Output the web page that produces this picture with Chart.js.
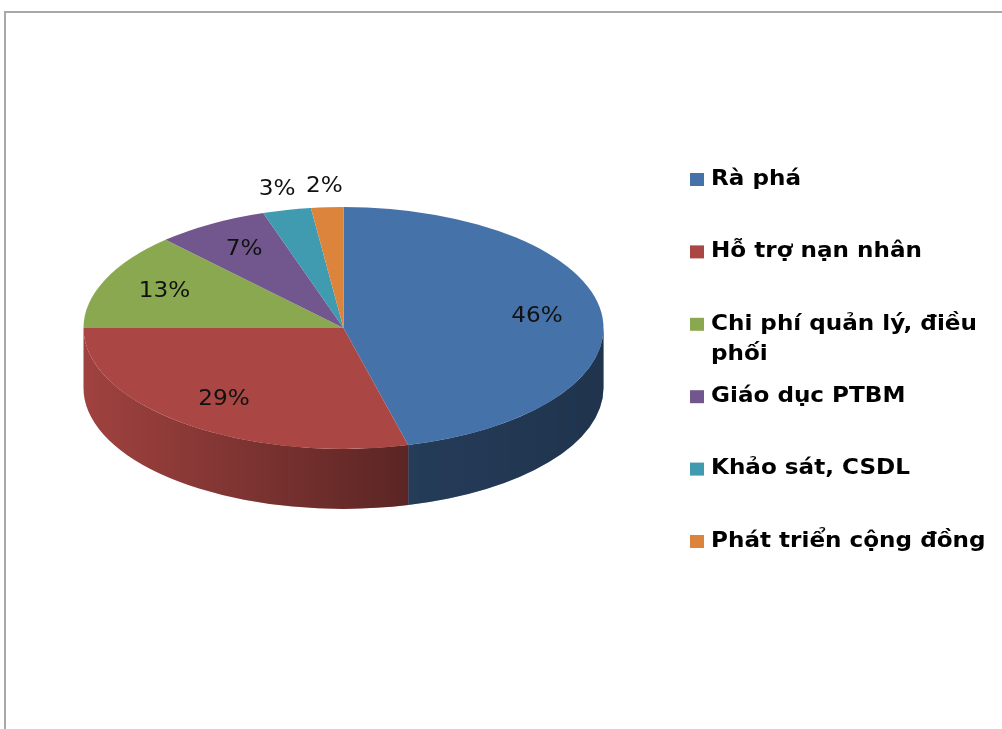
<!DOCTYPE html>
<html>
<head>
<meta charset="utf-8">
<script src="https://cdn.jsdelivr.net/npm/chart.js@4.4.1/dist/chart.umd.min.js"></script>
<style>
  body { margin: 0; background: #fff; }
  #wrap { position: relative; width: 1002px; height: 729px; overflow: hidden; }
  #frame { position: absolute; left: 4px; top: 11px; width: 1100px; height: 800px;
           border-left: 2px solid #a8a8a8; border-top: 2px solid #a8a8a8; }
  canvas { position: absolute; left: 0; top: 0; }
</style>
</head>
<body>
<div id="wrap">
  <div id="frame"></div>
  <canvas id="pie" width="1002" height="729"></canvas>
</div>
<script>
const categories = ['Rà phá', 'Hỗ trợ nạn nhân', 'Chi phí quản lý, điều phối', 'Giáo dục PTBM', 'Khảo sát, CSDL', 'Phát triển cộng đồng'];
const shares = [46, 29, 13, 7, 3, 2];
const sliceColors = ['#4672AA', '#AA4643', '#8AA84F', '#72578F', '#409AB0', '#DD843C'];

// look of the fake 3d pie
const tilt = 0.465;      // vertical squash of the top face
const depth = 60;        // thickness of the side wall
const labelFont = '20.5px "DejaVu Sans", Verdana, sans-serif';
const legendFont = 'bold 22px "DejaVu Sans", Verdana, sans-serif';
const labelStretch = 1.13;   // the source picture is a bit wide
const legendStretch = 1.05;

function wideText(ctx, text, x, y, sx, align) {
  ctx.save();
  ctx.translate(x, y);
  ctx.scale(sx, 1);
  ctx.textAlign = align;
  ctx.fillText(text, 0, 0);
  ctx.restore();
}

const pie3d = {
  id: 'pie3d',
  beforeDatasetsDraw(chart) {
    const ctx = chart.ctx;
    const arcs = chart.getDatasetMeta(0).data;
    const first = arcs[0].getProps(['x', 'y', 'outerRadius'], true);
    const cx = first.x, cy = first.y, r = first.outerRadius, ry = r * tilt;

    // side walls, only the front half (angles 0..PI) is visible
    arcs.forEach((arc, i) => {
      const p = arc.getProps(['startAngle', 'endAngle'], true);
      [0, 2 * Math.PI].forEach(shift => {
        const s = Math.max(p.startAngle, shift);
        const e = Math.min(p.endAngle, shift + Math.PI);
        if (e <= s) return;
        ctx.beginPath();
        ctx.ellipse(cx, cy, r, ry, 0, s, e);
        ctx.lineTo(cx + r * Math.cos(e), cy + ry * Math.sin(e) + depth);
        ctx.ellipse(cx, cy + depth, r, ry, 0, e, s, true);
        ctx.closePath();
        ctx.fillStyle = sliceColors[i];
        ctx.fill();
        const g = ctx.createLinearGradient(cx - r, 0, cx + r, 0);
        g.addColorStop(0, 'rgba(0,0,0,0.06)');
        g.addColorStop(0.64, 'rgba(0,0,0,0.48)');
        g.addColorStop(1, 'rgba(0,0,0,0.55)');
        ctx.fillStyle = g;
        ctx.fill();
      });
    });

    ctx.save();
    ctx.translate(cx, cy);
    ctx.scale(1, tilt);
    ctx.translate(-cx, -cy);
  },
  afterDatasetsDraw(chart) {
    const ctx = chart.ctx;
    ctx.restore();
    const arcs = chart.getDatasetMeta(0).data;
    const total = shares.reduce((a, b) => a + b, 0);
    ctx.font = labelFont;
    ctx.fillStyle = '#111';
    ctx.textBaseline = 'middle';
    arcs.forEach((arc, i) => {
      const p = arc.getProps(['x', 'y', 'startAngle', 'endAngle', 'outerRadius'], true);
      const mid = (p.startAngle + p.endAngle) / 2;
      const pct = Math.round(shares[i] / total * 100);
      const f = pct < 5 ? 1.17 : 0.75;
      const lx = p.x + Math.cos(mid) * p.outerRadius * f;
      const ly = p.y + Math.sin(mid) * p.outerRadius * f * tilt;
      wideText(ctx, pct + '%', lx, ly, labelStretch, 'center');
    });
  },
  afterDraw(chart) {
    // legend on the right, with word wrap like the original
    const ctx = chart.ctx;
    const boxX = 690, textX = 711, maxW = (chart.width - textX - 4) / legendStretch;
    const top = 179, step = 72.4, lineH = 30;
    ctx.font = legendFont;
    ctx.textBaseline = 'middle';
    categories.forEach((name, i) => {
      const y = top + i * step;
      ctx.fillStyle = sliceColors[i];
      ctx.fillRect(boxX, y - 6, 14, 13);
      ctx.fillStyle = '#000';
      const words = name.split(' ');
      let line = '', ly = y;
      words.forEach(w => {
        const test = line ? line + ' ' + w : w;
        if (line && ctx.measureText(test).width > maxW) {
          wideText(ctx, line, textX, ly, legendStretch, 'left');
          line = w;
          ly += lineH;
        } else {
          line = test;
        }
      });
      wideText(ctx, line, textX, ly, legendStretch, 'left');
    });
  }
};

new Chart(document.getElementById('pie'), {
  type: 'pie',
  data: {
    labels: categories,
    datasets: [{
      data: shares,
      backgroundColor: sliceColors,
      borderWidth: 0
    }]
  },
  options: {
    responsive: false,
    animation: false,
    devicePixelRatio: 1,
    layout: { padding: { left: 83, right: 398, top: 68, bottom: 141 } },
    plugins: {
      legend: { display: false },
      tooltip: { enabled: false }
    }
  },
  plugins: [pie3d]
});
</script>
</body>
</html>
